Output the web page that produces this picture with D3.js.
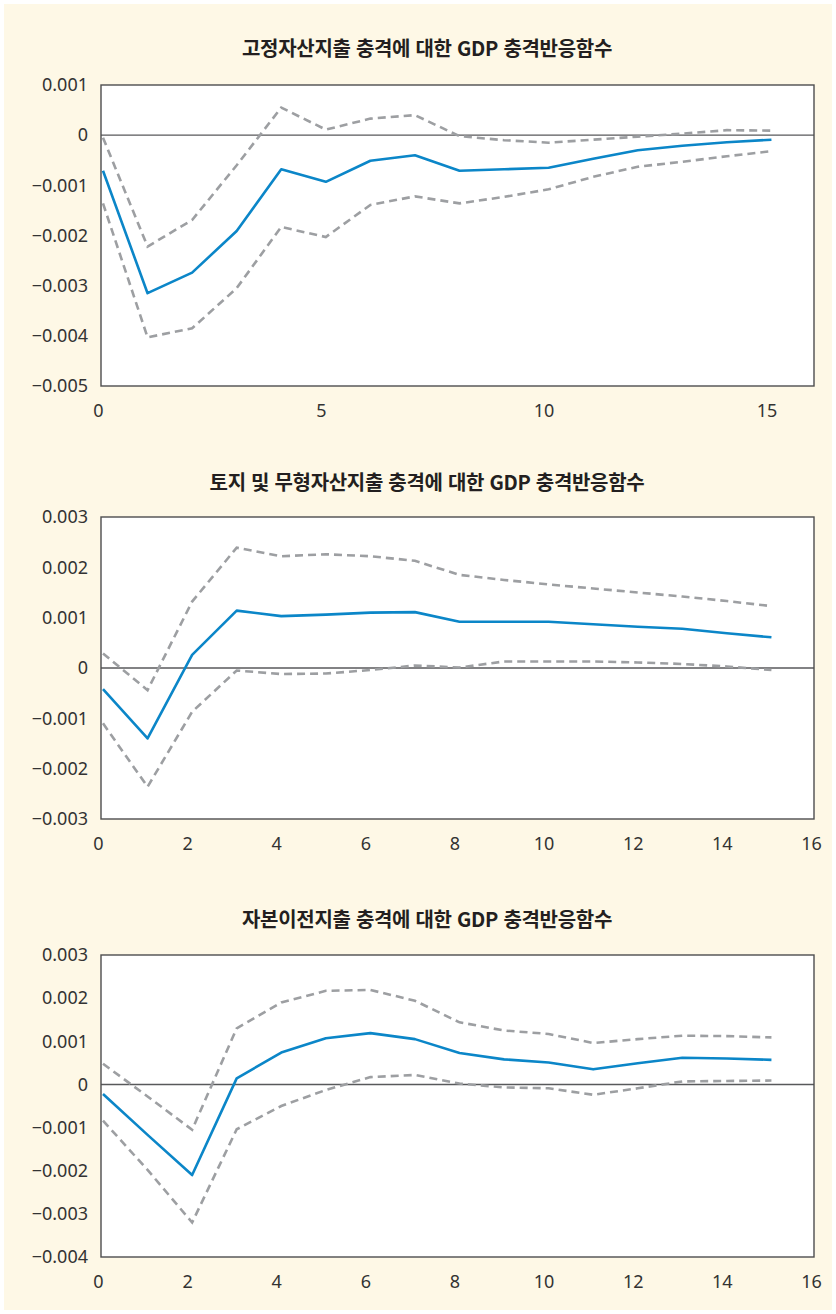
<!DOCTYPE html>
<html lang="ko">
<head>
<meta charset="utf-8">
<script src="https://cdn.jsdelivr.net/npm/d3@7"></script>
<style>
  html, body { margin: 0; padding: 0; background: #ffffff; }
  svg { display: block; }
</style>
</head>
<body>
<svg id="chart" width="836" height="1314"></svg>
<script>
// Horizon (periods after the shock)
const steps = [0, 1, 2, 3, 4, 5, 6, 7, 8, 9, 10, 11, 12, 13, 14, 15];

// Panel titles
const titles = [
  "고정자산지출 충격에 대한 GDP 충격반응함수",
  "토지 및 무형자산지출 충격에 대한 GDP 충격반응함수",
  "자본이전지출 충격에 대한 GDP 충격반응함수"
];

// Fixed-asset spending shock: response, upper and lower bands
const fixedResp  = [-0.00071, -0.00315, -0.00274, -0.00191, -0.00068, -0.00093, -0.00051, -0.00040, -0.00071, -0.00068, -0.00065, -0.00047, -0.00030, -0.00021, -0.00014, -0.00009];
const fixedUpper = [-0.00005, -0.00222, -0.00169, -0.00060, 0.00055, 0.00011, 0.00033, 0.00040, -0.00002, -0.00010, -0.00015, -0.00009, -0.00003, 0.00003, 0.00010, 0.00009];
const fixedLower = [-0.00136, -0.00403, -0.00385, -0.00305, -0.00183, -0.00203, -0.00139, -0.00122, -0.00136, -0.00123, -0.00108, -0.00083, -0.00063, -0.00053, -0.00042, -0.00032];

// Land and intangible-asset spending shock
const landResp  = [-0.00042, -0.00140, 0.00026, 0.00114, 0.00103, 0.00106, 0.00110, 0.00111, 0.00092, 0.00092, 0.00092, 0.00087, 0.00082, 0.00078, 0.00069, 0.00061];
const landUpper = [0.00029, -0.00044, 0.00132, 0.00239, 0.00222, 0.00226, 0.00222, 0.00213, 0.00185, 0.00175, 0.00166, 0.00158, 0.00150, 0.00142, 0.00133, 0.00123];
const landLower = [-0.00110, -0.00236, -0.00087, -0.00005, -0.00012, -0.00011, -0.00004, 0.00005, 0.00001, 0.00013, 0.00013, 0.00013, 0.00011, 0.00008, 0.00003, -0.00004];

// Capital-transfer spending shock
const transferResp  = [-0.00022, -0.00117, -0.00210, 0.00014, 0.00074, 0.00107, 0.00119, 0.00105, 0.00073, 0.00058, 0.00051, 0.00035, 0.00049, 0.00062, 0.00060, 0.00057];
const transferUpper = [0.00048, -0.00028, -0.00105, 0.00130, 0.00190, 0.00217, 0.00219, 0.00194, 0.00144, 0.00125, 0.00117, 0.00096, 0.00105, 0.00113, 0.00112, 0.00109];
const transferLower = [-0.00084, -0.00198, -0.00320, -0.00104, -0.00050, -0.00013, 0.00017, 0.00022, 0.00002, -0.00007, -0.00009, -0.00024, -0.00009, 0.00007, 0.00008, 0.00009];

// Axis ticks
const yTicks1 = [0.001, 0, -0.001, -0.002, -0.003, -0.004, -0.005];
const yTicks2 = [0.003, 0.002, 0.001, 0, -0.001, -0.002, -0.003];
const yTicks3 = [0.003, 0.002, 0.001, 0, -0.001, -0.002, -0.003, -0.004];
const xTicks1 = [0, 5, 10, 15];
const xTicks2 = [0, 2, 4, 6, 8, 10, 12, 14, 16];

const panels = [
  { title: titles[0], resp: fixedResp, upper: fixedUpper, lower: fixedLower,
    yTicks: yTicks1, xTicks: xTicks1, top: 85, bottom: 386, titleY: 47 },
  { title: titles[1], resp: landResp, upper: landUpper, lower: landLower,
    yTicks: yTicks2, xTicks: xTicks2, top: 517, bottom: 819, titleY: 481 },
  { title: titles[2], resp: transferResp, upper: transferUpper, lower: transferLower,
    yTicks: yTicks3, xTicks: xTicks2, top: 955, bottom: 1257, titleY: 918 }
];

const svg = d3.select("#chart");
const left = 101, right = 814;
const labelFont = "'Noto Sans', 'DejaVu Sans', sans-serif";
const titleFont = "'Noto Sans CJK KR', 'Noto Sans', sans-serif";

// cream page background
svg.append("rect")
  .attr("x", 4).attr("y", 4).attr("width", 828).attr("height", 1306)
  .attr("fill", "#fef8e6");

const fmt = v => v === 0 ? "0" : d3.format(".3f")(v);

panels.forEach(p => {
  const g = svg.append("g");

  // axis labels sit slightly left of the plotted periods
  const xAxisScale = d3.scaleLinear().domain([0, 16]).range([left - 3, right - 3]);
  const x = d3.scaleLinear().domain([0, 16]).range([left + 2, right + 2]);
  const y = d3.scaleLinear()
    .domain([d3.min(p.yTicks), d3.max(p.yTicks)])
    .range([p.bottom, p.top]);

  // title
  g.append("text")
    .attr("x", 427).attr("y", p.titleY)
    .attr("text-anchor", "middle").attr("dominant-baseline", "central")
    .attr("font-family", titleFont).attr("font-weight", 700)
    .attr("font-size", 20).attr("letter-spacing", -0.3)
    .attr("fill", "#231f20")
    .text(p.title);

  // plot area
  g.append("rect")
    .attr("x", left).attr("y", p.top)
    .attr("width", right - left).attr("height", p.bottom - p.top)
    .attr("fill", "#ffffff");

  // y axis labels
  const yAxis = d3.axisLeft(y).tickValues(p.yTicks).tickFormat(fmt)
    .tickSize(0).tickPadding(13);
  g.append("g").attr("transform", `translate(${left},0)`).call(yAxis)
    .call(a => a.select(".domain").remove())
    .selectAll("text")
    .attr("font-family", labelFont).attr("font-size", 18)
    .attr("fill", "#333333");

  // x axis labels
  const xAxis = d3.axisBottom(xAxisScale).tickValues(p.xTicks).tickFormat(d3.format("d"))
    .tickSize(0).tickPadding(18);
  g.append("g").attr("transform", `translate(0,${p.bottom})`).call(xAxis)
    .call(a => a.select(".domain").remove())
    .selectAll("text")
    .attr("font-family", labelFont).attr("font-size", 18)
    .attr("fill", "#333333");

  // zero line
  g.append("line")
    .attr("x1", left).attr("x2", right)
    .attr("y1", y(0)).attr("y2", y(0))
    .attr("stroke", "#58595b").attr("stroke-width", 1.4);

  const line = d3.line().x((d, i) => x(steps[i])).y(d => y(d));

  // confidence bands
  [p.upper, p.lower].forEach(band => {
    g.append("path").datum(band)
      .attr("d", line).attr("fill", "none")
      .attr("stroke", "#9d9fa2").attr("stroke-width", 2.6)
      .attr("stroke-dasharray", "8,5");
  });

  // impulse response
  g.append("path").datum(p.resp)
    .attr("d", line).attr("fill", "none")
    .attr("stroke", "#0b86c8").attr("stroke-width", 2.6)
    .attr("stroke-linejoin", "round");

  // plot frame
  g.append("rect")
    .attr("x", left).attr("y", p.top)
    .attr("width", right - left).attr("height", p.bottom - p.top)
    .attr("fill", "none").attr("stroke", "#4d4d4f").attr("stroke-width", 1.4);
});
</script>
</body>
</html>
